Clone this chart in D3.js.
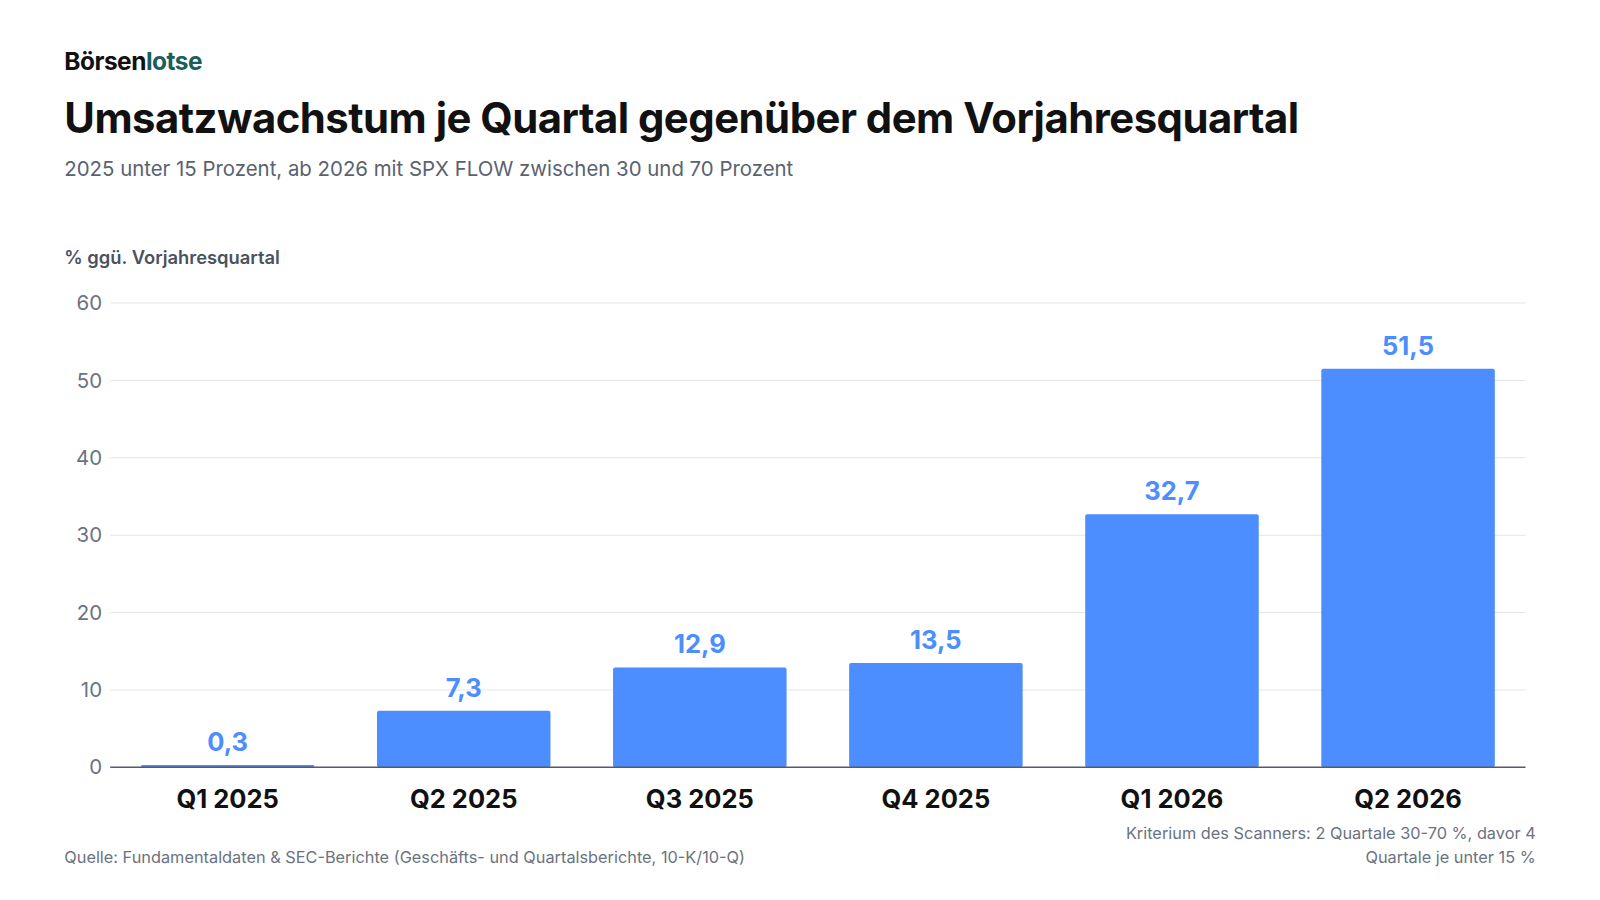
<!DOCTYPE html>
<html><head><meta charset="utf-8">
<script src="https://cdn.jsdelivr.net/npm/d3@7"></script>
<style>body{margin:0;background:#fff;font-family:Inter,sans-serif}</style>
</head><body><svg id="c" width="1600" height="900"></svg>
<script>
const categories=["Q1 2025","Q2 2025","Q3 2025","Q4 2025","Q1 2026","Q2 2026"];
const values=[0.3,7.3,12.9,13.5,32.7,51.5];
const yTicks=[0,10,20,30,40,50,60];
const svg=d3.select("#c").append("g").attr("transform","scale(1.0204)");
const L=108,R=1495,T=297,B=752;
const x=d3.scaleBand().domain(categories).range([L,R]).paddingInner(0.265).paddingOuter(0.13);
const y=d3.scaleLinear().domain([0,60]).range([B,T]);
const lg=svg.append("text").attr("x",63).attr("y",69).attr("font-size",24).attr("font-weight",700).attr("letter-spacing",-0.5);
lg.append("tspan").attr("fill","#111").text("Börsen");
lg.append("tspan").attr("fill","#1b5e5a").text("lotse");
svg.append("text").attr("x",63).attr("y",130).attr("font-size",41).attr("font-weight",700).attr("fill","#111").attr("letter-spacing",-0.5).text("Umsatzwachstum je Quartal gegenüber dem Vorjahresquartal");
svg.append("text").attr("x",63).attr("y",172).attr("font-size",20).attr("fill","#5a6270").text("2025 unter 15 Prozent, ab 2026 mit SPX FLOW zwischen 30 und 70 Prozent");
svg.append("text").attr("x",63).attr("y",259).attr("font-size",18).attr("font-weight",600).attr("fill","#4a5260").text("% ggü. Vorjahresquartal");
svg.append("g").selectAll("line").data(yTicks.filter(d=>d>0)).join("line")
 .attr("x1",L).attr("x2",R).attr("y1",d=>y(d)).attr("y2",d=>y(d)).attr("stroke","#e3e5e8");
svg.append("g").selectAll("text").data(yTicks).join("text")
 .attr("x",100).attr("y",d=>y(d)+7).attr("text-anchor","end").attr("font-size",20).attr("fill","#6b7280").text(d=>d);
svg.append("g").selectAll("rect").data(values).join("rect")
 .attr("x",(d,i)=>x(categories[i])).attr("width",x.bandwidth())
 .attr("y",d=>y(d)).attr("height",d=>B-y(d)).attr("rx",2).attr("fill","#4c8dff");
svg.append("g").selectAll("text").data(values).join("text")
 .attr("x",(d,i)=>x(categories[i])+x.bandwidth()/2).attr("y",d=>y(d)-14)
 .attr("text-anchor","middle").attr("font-size",25).attr("font-weight",700).attr("fill","#4c8dff")
 .text(d=>d.toFixed(1).replace(".",","));
svg.append("line").attr("x1",L).attr("x2",R).attr("y1",B).attr("y2",B).attr("stroke","#555b66").attr("stroke-width",1.5);
svg.append("g").selectAll("text").data(categories).join("text")
 .attr("x",d=>x(d)+x.bandwidth()/2).attr("y",792).attr("text-anchor","middle")
 .attr("font-size",25).attr("font-weight",700).attr("fill","#111").text(d=>d);
svg.append("text").attr("x",63).attr("y",846).attr("font-size",16).attr("fill","#6b7280").text("Quelle: Fundamentaldaten & SEC-Berichte (Geschäfts- und Quartalsberichte, 10-K/10-Q)");
svg.append("text").attr("x",1505).attr("y",822).attr("text-anchor","end").attr("font-size",16).attr("fill","#6b7280").text("Kriterium des Scanners: 2 Quartale 30-70 %, davor 4");
svg.append("text").attr("x",1505).attr("y",846).attr("text-anchor","end").attr("font-size",16).attr("fill","#6b7280").text("Quartale je unter 15 %");
</script></body></html>
